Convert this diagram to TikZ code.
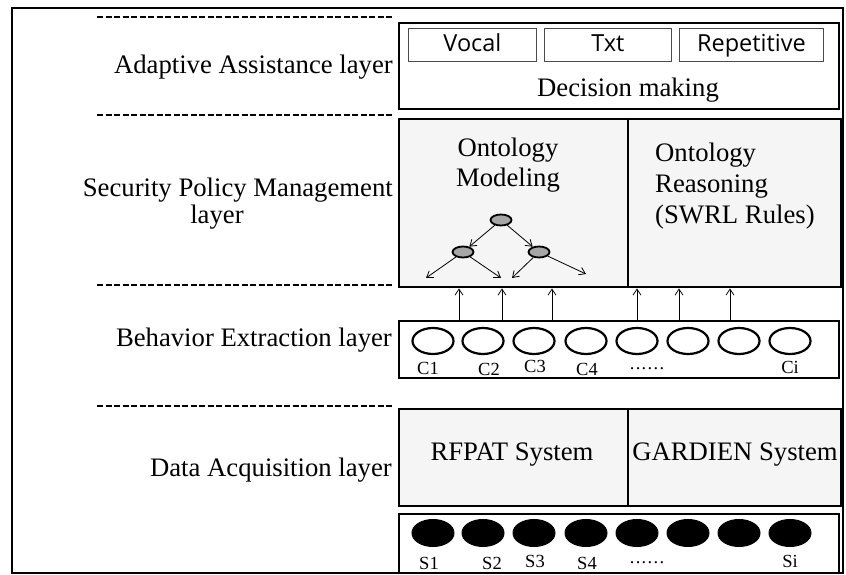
\documentclass[tikz,border=0pt]{standalone}
\usepackage{fontspec}
\setmainfont{Liberation Serif}
\newfontfamily\sansf{Open Sans}
\usetikzlibrary{arrows.meta,shapes.geometric}
\newcommand{\sixdots}{.\kern1.3pt.\kern1.3pt.\kern1.3pt.\kern1.3pt.\kern1.3pt.}
\begin{document}
\begin{tikzpicture}[x=1pt,y=-1pt,
  lbl/.style={font=\fontsize{26.7}{31}\selectfont, inner sep=0pt},
  small/.style={font=\fontsize{18.5}{20}\selectfont, inner sep=0pt},
  box/.style={draw, line width=2.4pt, inner sep=0pt, anchor=north west},
  subbox/.style={draw=black!70, line width=0.9pt, inner sep=0pt, anchor=north west,
                 minimum height=33pt, text height=17pt, text depth=3pt,
                 font=\sansf\fontsize{23.5}{25}\selectfont},
  sepline/.style={line width=1.1pt, dash pattern=on 6pt off 2.5pt},
  oval/.style={ellipse, draw, line width=2.2pt, minimum width=41pt, minimum height=26pt, inner sep=0pt},
  soval/.style={ellipse, fill=black, draw, line width=1pt, minimum width=42pt, minimum height=27pt, inner sep=0pt},
  tnode/.style={ellipse, draw, fill=black!35, line width=1.8pt, minimum width=21pt, minimum height=11pt, inner sep=0pt},
  arr/.style={-{Straight Barb[length=6pt,width=8pt]}, line width=0.8pt}
]
\useasboundingbox (0,0) rectangle (846,575);
% outer frame
\draw[line width=2.2pt] (12,8) rectangle (843,573);
% dashed separators
\foreach \yy/\nm in {17/d1,115/d2,285/d3,406/d4}{
  \coordinate (\nm a) at (97,\yy); \coordinate (\nm b) at (393,\yy);
  \draw[sepline] (\nm a) -- (\nm b);
}
% layer labels
\node[lbl, anchor=east] (l1) at (393,67) {Adaptive Assistance layer};
\node[lbl, anchor=east] (l2) at (393,190) {Security Policy Management};
\node[lbl] (l2b) at (217,217) {layer};
\node[lbl, anchor=east] (l3) at (392,340) {Behavior Extraction layer};
\node[lbl, anchor=east] (l4) at (392,470) {Data Acquisition layer};

% box 1
\node[box, fill=white, minimum width=440pt, minimum height=86pt] (b1) at (398,22) {};
\node[subbox, minimum width=128pt] (vocal) at (408,28) {Vocal};
\node[subbox, minimum width=127pt] (txt) at (544,28) {Txt};
\node[subbox, minimum width=144pt] (rep) at (679,28) {Repetitive};
\node[lbl] (dm) at (628,90) {Decision making};

% box 2
\node[box, fill=black!4, minimum width=442pt, minimum height=168pt] (b2) at (398,118) {};
\draw[line width=2.4pt] (628,118) -- (628,286);
\node[lbl, align=center, font=\fontsize{26.7}{30}\selectfont] (om) at (508,165) {Ontology\\Modeling};
\node[lbl, align=left, anchor=north west, font=\fontsize{26.7}{31}\selectfont] (or) at (655,143) {Ontology\\Reasoning\\(SWRL Rules)};
% tree
\node[tnode] (tr) at (501,220) {};
\node[tnode] (tl) at (463,252) {};
\node[tnode] (trr) at (539,252) {};
\coordinate (e1) at (426,278);
\coordinate (e2) at (501,278);
\coordinate (e3) at (512,278);
\coordinate (e4) at (586,274);
\draw[arr] (tr) -- (tl);
\draw[arr] (tr) -- (trr);
\draw[arr] (tl) -- (e1);
\draw[arr] (tl) -- (e2);
\draw[arr] (trr) -- (e3);
\draw[arr] (trr) -- (e4);

% box 3
\node[box, fill=white, minimum width=440pt, minimum height=57pt] (b3) at (398,320) {};
\foreach \xx [count=\i] in {433,483,534,586,637,688,739,790}{
  \node[oval] (c\i) at (\xx,341) {};
}
\node[small] (cl1) at (428,368) {C1};
\node[small] (cl2) at (489,369) {C2};
\node[small] (cl3) at (535,366) {C3};
\node[small] (cl4) at (587,369) {C4};
\node[small] (cld) at (647,369) {\sixdots};
\node[small] (cli) at (790,367) {Ci};
% arrows up
\foreach \xx [count=\i] in {459,502,552,637,679,730}{
  \coordinate (u\i) at (\xx,320);
  \draw[arr] (u\i) -- (u\i |- b2.south);
}

% box 4
\node[box, fill=black!4, minimum width=442pt, minimum height=97pt] (b4) at (398,408) {};
\draw[line width=2.4pt] (628,408) -- (628,505);
\node[lbl] (rf) at (512,455) {RFPAT System};
\node[lbl] (gd) at (735,455) {GARDIEN System};

% box 5
\node[box, fill=white, minimum width=440pt, minimum height=59pt] (b5) at (398,513) {};
\foreach \xx [count=\i] in {433,483,534,586,637,688,739,790}{
  \node[soval] (s\i) at (\xx,533) {};
}
\node[small] (sl1) at (429,563) {S1};
\node[small] (sl2) at (492,563) {S2};
\node[small] (sl3) at (535,561) {S3};
\node[small] (sl4) at (587,563) {S4};
\node[small] (sld) at (647,563) {\sixdots};
\node[small] (sli) at (790,561) {Si};
\end{tikzpicture}
\end{document}
